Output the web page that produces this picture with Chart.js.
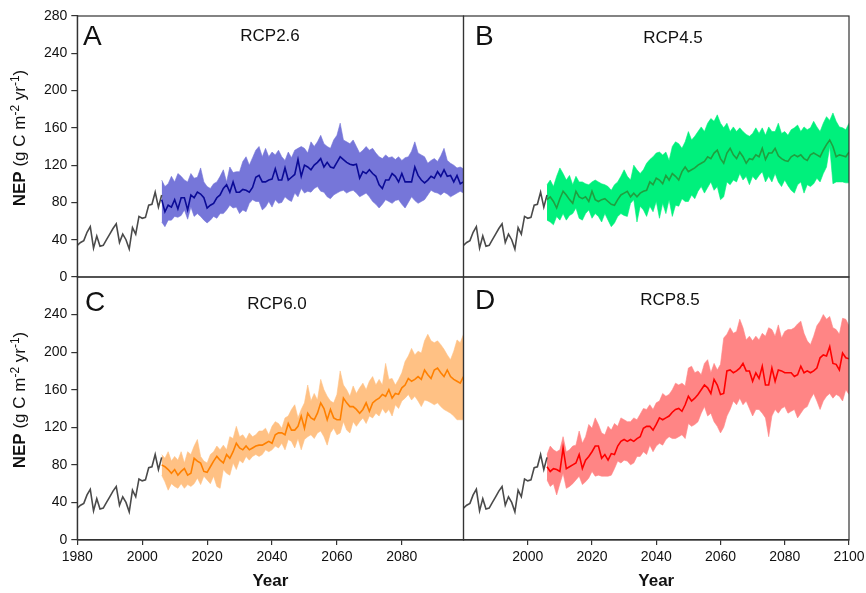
<!DOCTYPE html>
<html><head><meta charset="utf-8">
<script src="https://cdn.jsdelivr.net/npm/chart.js@4.4.1/dist/chart.umd.min.js"></script>
<style>
html,body{margin:0;padding:0;background:#fff;}
#wrap{position:relative;width:866px;height:593px;overflow:hidden;background:#fff;}
canvas{position:absolute;left:0;top:0;width:866px;height:593px;}
</style></head><body>
<div id="wrap">
<canvas id="cA" width="866" height="593"></canvas>
<canvas id="cB" width="866" height="593"></canvas>
<canvas id="cC" width="866" height="593"></canvas>
<canvas id="cD" width="866" height="593"></canvas>
</div>
<script>
// ---------------- data ----------------
const histStart = 1980;
const historical = [34,37,39,48,54,31,44,33,34,40,46,52,57,37,46,40,30,53,46,65,63,64,77,78,91,75,88];

const projStart = 2006;

const meanA = [83,70,77,75,83,73,85,85,72,88, 85,91,89,85,74,77,79,85,88,95, 99,91,102,91,91,94,93,91,96,107,
  109,102,102,104,105,116,104,104,117,104, 107,110,126,108,120,118,115,120,123,127, 118,123,118,117,123,129,126,123,121,120,
  121,106,113,111,115,111,108,99,95,104, 104,111,108,102,111,102,102,102,118,109, 104,101,104,108,106,113,108,115,108,109,
  102,109,100,102];
const upperA = [104,97,100,108,102,111,108,104,102,111, 106,107,117,102,97,95,100,102,108,115, 102,118,112,113,113,124,129,120,128,136,
  140,129,138,129,134,131,136,129,125,134, 128,136,138,140,138,133,145,140,145,152, 143,140,138,147,152,165,147,145,143,147,
  140,133,136,140,136,138,133,129,127,131, 128,129,126,129,125,128,129,135,145,133, 131,129,122,125,127,124,130,138,125,122,
  120,117,118,116];
const lowerA = [59,54,61,61,65,64,66,72,62,75, 65,68,65,61,58,61,65,63,68,68, 72,77,74,75,68,72,70,79,83,81,
  81,72,75,81,75,83,79,80,86,83, 81,90,86,95,90,92,91,95,97,92, 91,86,84,88,90,92,93,90,92,93,
  90,86,88,90,86,81,78,74,78,83, 81,79,82,83,78,74,80,86,82,79, 81,83,88,93,91,90,88,91,89,86,
  88,90,92,90];

const meanB = [83,86,81,74,84,92,88,83,79,92, 86,84,86,81,92,83,81,83,84,81, 78,77,83,88,90,92,86,90,86,90,
  92,93,102,99,106,104,100,109,104,111, 108,104,113,118,113,115,117,120,122,124, 129,127,133,136,127,122,133,138,131,127,
  134,129,122,127,126,131,129,138,126,133, 133,138,130,127,125,124,129,131,129,131, 127,125,131,133,131,129,136,142,147,140,
  129,131,130,129,134];
const upperB = [99,104,97,108,117,111,104,109,99,108, 102,102,100,99,102,104,102,100,99,97, 93,99,102,108,115,108,104,120,115,111,
  115,122,126,129,133,134,131,134,125,140, 145,143,138,145,156,147,151,156,161,156, 165,170,167,174,165,160,165,156,161,156,
  160,156,153,151,154,160,154,160,152,161, 156,156,165,154,156,152,158,160,163,156, 161,158,160,167,161,156,165,172,168,176,
  167,161,160,158,165];
const lowerB = [61,59,56,65,61,68,61,66,68,74, 63,61,68,72,63,68,65,59,68,61, 54,58,65,68,66,65,79,83,59,76,
  72,65,76,70,81,63,79,68,83,65, 77,76,84,81,81,88,84,92,97,90, 96,102,93,97,83,86,102,99,104,102,
  111,104,108,99,108,104,109,113,102,108, 102,111,102,97,104,98,93,90,99,102, 90,99,97,100,106,102,111,118,140,100,
  102,102,102,101,101];

const meanC = [80,78,75,71,75,69,73,76,69,71, 87,84,82,73,72,78,84,89,85,82, 91,87,94,103,98,96,100,96,98,100,
  101,101,103,105,103,112,114,114,112,124, 117,117,121,132,119,135,130,128,135,146, 140,128,139,130,128,128,151,146,142,142,
  139,135,139,146,137,146,149,151,155,153, 160,151,156,155,162,165,172,169,171,174, 171,181,176,172,181,183,178,174,181,174,
  171,169,167,174];
const upperC = [91,87,94,84,89,85,94,82,94,91, 100,107,89,84,82,91,94,100,96,101, 96,110,108,121,110,112,107,114,110,112,
  116,116,119,112,121,126,124,119,130,132, 139,144,130,139,146,165,148,156,149,171, 160,153,148,146,155,180,165,160,153,164,
  156,162,167,160,169,174,165,171,165,188, 171,172,165,171,178,190,196,204,197,201, 199,212,219,212,210,212,208,203,197,192,
  201,213,210,219];
const lowerC = [69,62,53,60,57,55,60,55,59,57, 60,66,59,68,64,60,68,57,55,75, 71,69,82,75,85,82,89,85,89,91,
  89,91,96,94,96,100,98,103,96,107, 105,98,108,96,107,110,112,108,114,116, 110,101,114,119,112,114,126,117,114,126,
  121,126,130,124,132,130,135,132,140,135, 139,132,144,140,148,151,155,149,153,148, 142,149,148,146,144,146,142,139,137,135,
  132,128,128,128];

const meanD = [78,73,76,75,73,98,76,78,80,82, 91,76,85,89,94,100,100,87,91,85, 92,91,100,105,107,105,107,105,108,110,
  119,121,121,117,123,130,128,130,132,136, 139,140,137,144,153,148,151,155,160,165, 162,156,171,165,155,156,180,181,178,180,
  183,188,180,180,169,178,172,185,165,165, 183,169,181,180,178,178,178,174,176,185, 178,180,178,180,183,194,197,196,206,188,
  187,181,199,194,193];
const upperD = [91,100,96,94,96,110,94,96,100,101, 116,103,110,123,119,130,123,114,112,121, 117,124,121,130,128,126,126,130,128,134,
  140,139,144,139,146,148,156,153,155,160, 167,165,167,164,183,185,178,180,176,188, 192,178,188,181,187,215,219,226,220,222,
  235,226,213,217,212,217,213,220,217,226, 224,217,229,215,222,224,224,226,230,233, 220,212,208,217,228,233,240,235,238,226,
  224,219,236,235,228];
const lowerD = [64,57,60,48,60,71,55,57,60,64, 68,59,62,66,73,68,69,68,68,68, 69,76,84,82,85,84,80,82,89,89,
  94,91,101,94,100,103,101,107,110,108, 108,110,112,108,124,121,123,126,135,142, 132,135,126,121,114,120,132,139,148,144,
  151,144,148,140,132,139,139,135,130,110, 132,139,135,140,142,135,137,139,130,135, 140,142,150,156,148,139,148,153,156,151,
  155,153,148,160,155];

const yTicksTop = [0,40,80,120,160,200,240,280];
const yTicksBottom = [0,40,80,120,160,200,240];
const xTicksLeft = [1980,2000,2020,2040,2060,2080];
const xTicksRight = [2000,2020,2040,2060,2080,2100];
const scenarioLabels = ['RCP2.6','RCP4.5','RCP6.0','RCP8.5'];
const panelLetters = ['A','B','C','D'];

// ---------------- rendering ----------------
const FONT = "'Liberation Sans', Arial, Helvetica, sans-serif";
const INK = '#111';
const FRAME = '#333';

function toXY(start, arr){ return arr.map((v,i)=>({x:start+i, y:v})); }

function datasets(mean, upper, lower, lineColor, bandColor){
  return [
    {data: toXY(projStart, mean), borderColor: lineColor, borderWidth: 1.6, pointRadius: 0, fill: false, tension: 0},
    {data: toXY(histStart, historical), borderColor: '#4a4a4a', borderWidth: 1.6, pointRadius: 0, fill: false, tension: 0},
    {data: toXY(projStart, upper), borderColor: bandColor, borderWidth: 0.6, backgroundColor: bandColor, pointRadius: 0, fill: '+1', tension: 0},
    {data: toXY(projStart, lower), borderColor: bandColor, borderWidth: 0.6, pointRadius: 0, fill: false, tension: 0}
  ];
}

function drawYTitle(ctx, bx, cy){
  const parts = [
    {t:'NEP', f:'bold 17px '+FONT, dy:0},
    {t:' (g C m', f:'17px '+FONT, dy:0},
    {t:'-2', f:'12px '+FONT, dy:-6.5},
    {t:' yr', f:'17px '+FONT, dy:0},
    {t:'-1', f:'12px '+FONT, dy:-6.5},
    {t:')', f:'17px '+FONT, dy:0}
  ];
  ctx.save();
  let total = 0;
  parts.forEach(p=>{ ctx.font = p.f; p.w = ctx.measureText(p.t).width; total += p.w; });
  ctx.translate(bx, cy);
  ctx.rotate(-Math.PI/2);
  ctx.fillStyle = INK;
  ctx.textBaseline = 'alphabetic';
  ctx.textAlign = 'left';
  let x = -total/2;
  parts.forEach(p=>{ ctx.font = p.f; ctx.fillText(p.t, x, p.dy); x += p.w; });
  ctx.restore();
}

function textPlugin(cfg){
  return {
    id: 'panelText',
    afterDraw(chart){
      const ctx = chart.ctx, a = chart.chartArea;
      ctx.save();
      ctx.strokeStyle = FRAME; ctx.lineWidth = 1.2;
      ctx.strokeRect(a.left, a.top, a.right - a.left, a.bottom - a.top);
      ctx.fillStyle = INK;
      ctx.textBaseline = 'alphabetic';
      ctx.font = '28px ' + FONT; ctx.textAlign = 'left';
      ctx.fillText(cfg.letter, cfg.lx, cfg.ly + 0.358*28);
      ctx.font = '17px ' + FONT; ctx.textAlign = 'center';
      ctx.fillText(cfg.label, cfg.rx, cfg.ry + 0.358*17);
      ctx.restore();
      if (cfg.ytitle) drawYTitle(ctx, cfg.ytitle[0], cfg.ytitle[1]);
    }
  };
}

function makeChart(id, cfg){
  const tickFont = {family: FONT, size: 14};
  new Chart(document.getElementById(id), {
    type: 'line',
    data: {datasets: cfg.datasets},
    options: {
      responsive: false, animation: false, events: [],
      layout: {padding: cfg.padding},
      plugins: {legend: {display: false}, tooltip: {enabled: false}},
      scales: {
        x: {
          type: 'linear', min: 1980, max: cfg.xmax, display: cfg.showX,
          afterBuildTicks: s => { s.ticks = cfg.xTicks.map(v => ({value: v})); },
          afterFit: s => { s.height = cfg.showX ? 53 : 0; s.paddingLeft = 0; s.paddingRight = 0; },
          grid: {drawOnChartArea: false, drawTicks: true, tickLength: 5, color: FRAME, lineWidth: 1.2},
          border: {display: true, color: FRAME, width: 1.2},
          ticks: {font: tickFont, color: INK, padding: 4, maxRotation: 0, autoSkip: false, callback: v => String(v)},
          title: {display: true, text: 'Year', color: INK, font: {family: FONT, size: 17, weight: 'bold'}, padding: {top: 0, bottom: 1}}
        },
        y: {
          min: 0, max: 280, display: cfg.showY,
          afterBuildTicks: s => { s.ticks = cfg.yTicks.map(v => ({value: v})); },
          afterFit: s => { s.width = cfg.showY ? 77.3 : 0; s.paddingTop = 0; s.paddingBottom = 0; },
          grid: {drawOnChartArea: false, drawTicks: true, tickLength: 6, color: FRAME, lineWidth: 1.2},
          border: {display: true, color: FRAME, width: 1.2},
          ticks: {font: tickFont, color: INK, padding: 4, autoSkip: false, callback: v => String(v)}
        }
      }
    },
    plugins: [textPlugin(cfg)]
  });
}

const W = 866, H = 593, XL = 463.5, XR = 849, YT = 16, YM = 277, YB = 540;

makeChart('cA', {
  datasets: datasets(meanA, upperA, lowerA, '#0a0a96', '#7676d9'),
  padding: {left: 0, top: YT, right: W - XL, bottom: H - YM},
  showX: false, showY: true, xmax: 2099, xTicks: xTicksLeft, yTicks: yTicksTop,
  letter: panelLetters[0], lx: 83, ly: 35, label: scenarioLabels[0], rx: 270, ry: 35, ytitle: [25, 138]
});
makeChart('cB', {
  datasets: datasets(meanB, upperB, lowerB, '#1f9f3f', '#00f07c'),
  padding: {left: XL, top: YT, right: W - XR, bottom: H - YM},
  showX: false, showY: false, xmax: 2100, xTicks: xTicksRight, yTicks: yTicksTop,
  letter: panelLetters[1], lx: 475, ly: 35, label: scenarioLabels[1], rx: 673, ry: 36.5
});
makeChart('cC', {
  datasets: datasets(meanC, upperC, lowerC, '#ff8000', '#ffc184'),
  padding: {left: 0, top: YM, right: W - XL, bottom: 0},
  showX: true, showY: true, xmax: 2099, xTicks: xTicksLeft, yTicks: yTicksBottom,
  letter: panelLetters[2], lx: 85, ly: 301, label: scenarioLabels[2], rx: 277, ry: 303, ytitle: [25, 400]
});
makeChart('cD', {
  datasets: datasets(meanD, upperD, lowerD, '#ff0000', '#ff8585'),
  padding: {left: XL, top: YM, right: W - XR, bottom: 0},
  showX: true, showY: false, xmax: 2100, xTicks: xTicksRight, yTicks: yTicksBottom,
  letter: panelLetters[3], lx: 475, ly: 299, label: scenarioLabels[3], rx: 670, ry: 299
});
</script>
</body></html>
